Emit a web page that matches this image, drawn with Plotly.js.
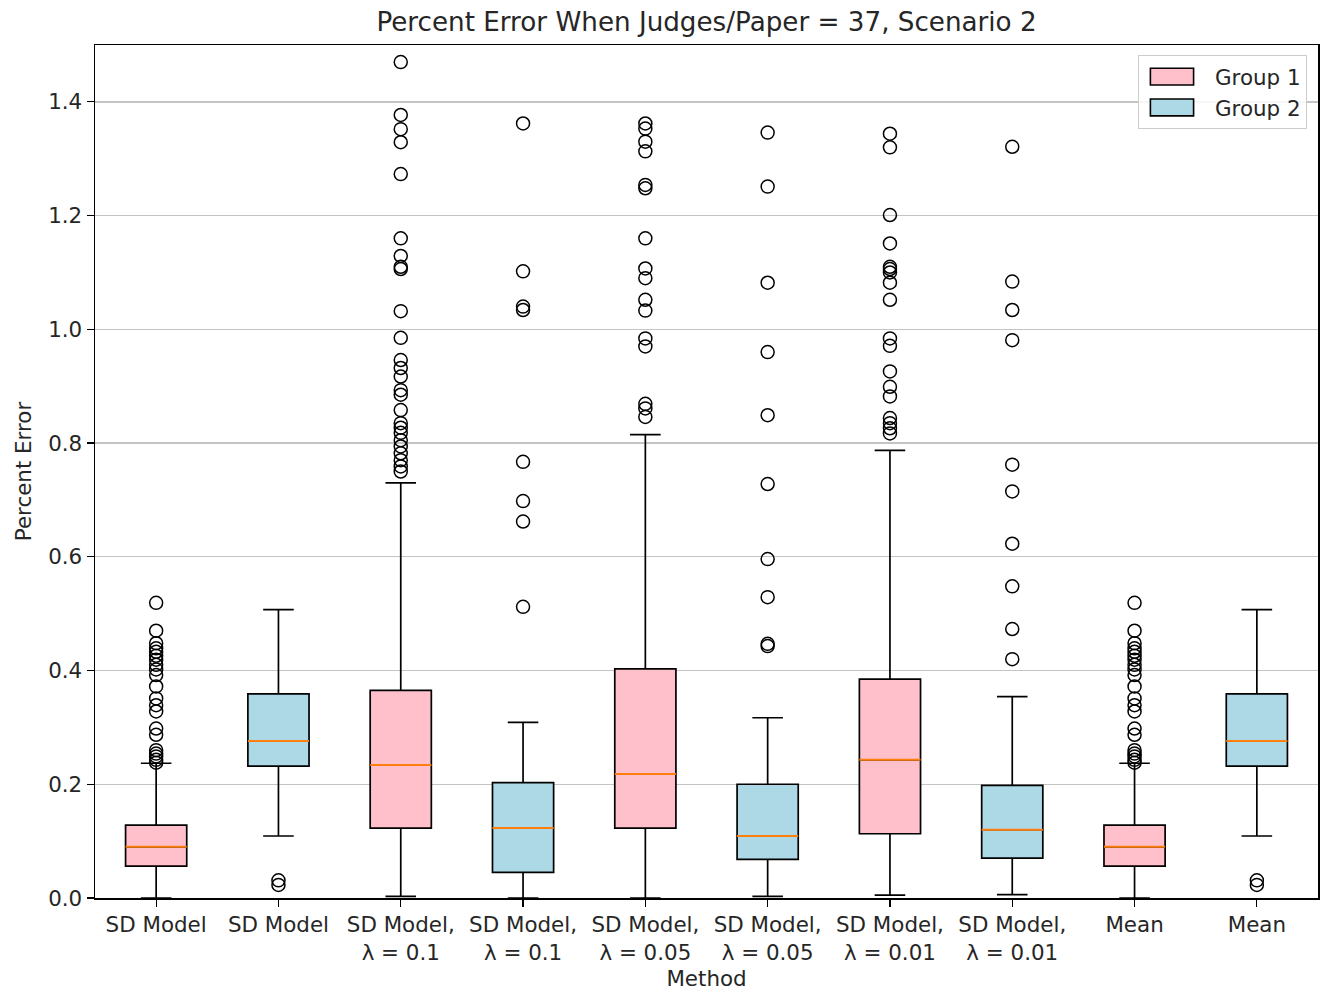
<!DOCTYPE html>
<html>
<head>
<meta charset="utf-8">
<script src="https://cdn.plot.ly/plotly-3.0.1.min.js"></script>
<style>html,body{margin:0;padding:0;background:#fff;}#chart{width:1327px;height:991px;}</style>
</head>
<body>
<div id="chart"></div>
<script>
// ---- data ----
const categories = ["SD Model", "SD Model", "SD Model,<br>λ = 0.1", "SD Model,<br>λ = 0.1",
  "SD Model,<br>λ = 0.05", "SD Model,<br>λ = 0.05", "SD Model,<br>λ = 0.01", "SD Model,<br>λ = 0.01",
  "Mean", "Mean"];
const groups = [1, 2, 1, 2, 1, 2, 1, 2, 1, 2];
const q1Values = [0.056, 0.232, 0.123, 0.045, 0.123, 0.068, 0.113, 0.070, 0.056, 0.232];
const medianValues = [0.090, 0.276, 0.234, 0.123, 0.218, 0.109, 0.243, 0.120, 0.090, 0.276];
const q3Values = [0.128, 0.359, 0.365, 0.203, 0.403, 0.200, 0.385, 0.198, 0.128, 0.359];
const lowerWhisker = [0.000, 0.109, 0.003, 0.000, 0.000, 0.003, 0.005, 0.006, 0.000, 0.109];
const upperWhisker = [0.237, 0.507, 0.730, 0.309, 0.815, 0.317, 0.787, 0.354, 0.237, 0.507];
const outlierSD1 = [0.519, 0.470, 0.448, 0.439, 0.433, 0.426, 0.419, 0.410, 0.402, 0.392, 0.372, 0.351,
  0.339, 0.328, 0.298, 0.287, 0.260, 0.254, 0.249, 0.243, 0.238];
const outlierSD2 = [0.031, 0.023];
const outlierL01g1 = [1.470, 1.377, 1.352, 1.329, 1.273, 1.160, 1.129, 1.110, 1.106, 1.032, 0.985, 0.946,
  0.932, 0.917, 0.893, 0.885, 0.858, 0.835, 0.827, 0.818, 0.805, 0.794, 0.782, 0.770, 0.759, 0.750];
const outlierL01g2 = [1.362, 1.102, 1.040, 1.034, 0.767, 0.698, 0.662, 0.512];
const outlierL005g1 = [1.362, 1.353, 1.330, 1.313, 1.254, 1.248, 1.160, 1.107, 1.090, 1.052, 1.033, 0.984,
  0.970, 0.869, 0.861, 0.846];
const outlierL005g2 = [1.346, 1.251, 1.082, 0.960, 0.849, 0.728, 0.596, 0.529, 0.447, 0.443];
const outlierL001g1 = [1.344, 1.320, 1.201, 1.151, 1.110, 1.106, 1.100, 1.082, 1.052, 0.984, 0.971, 0.926,
  0.899, 0.882, 0.844, 0.835, 0.826, 0.817];
const outlierL001g2 = [1.321, 1.084, 1.034, 0.981, 0.762, 0.715, 0.623, 0.548, 0.473, 0.420];
const outlierMean1 = outlierSD1.slice();
const outlierMean2 = outlierSD2.slice();
const outliers = [outlierSD1, outlierSD2, outlierL01g1, outlierL01g2, outlierL005g1, outlierL005g2,
  outlierL001g1, outlierL001g2, outlierMean1, outlierMean2];
const groupNames = {1: "Group 1", 2: "Group 2"};
const groupColors = {1: "pink", 2: "lightblue"};

// ---- build traces ----
const positions = categories.map((_, i) => i + 1);
const FONT = "DejaVu Sans, sans-serif";
const traces = [];
[1, 2].forEach(g => {
  const idx = positions.map((p, i) => i).filter(i => groups[i] === g);
  traces.push({
    type: "box", name: groupNames[g],
    x: idx.map(i => positions[i]),
    q1: idx.map(i => q1Values[i]), median: idx.map(i => medianValues[i]), q3: idx.map(i => q3Values[i]),
    lowerfence: idx.map(i => lowerWhisker[i]), upperfence: idx.map(i => upperWhisker[i]),
    boxpoints: false, width: 0.5, whiskerwidth: 0.5,
    fillcolor: groupColors[g], line: {color: "#000000", width: 1.7},
    hoverinfo: "skip"
  });
});
// orange median lines
traces.push({
  type: "box", showlegend: false,
  x: positions, q1: medianValues, median: medianValues, q3: medianValues,
  lowerfence: medianValues, upperfence: medianValues,
  boxpoints: false, width: 0.5, whiskerwidth: 0,
  fillcolor: "rgba(0,0,0,0)", line: {color: "#ff7f0e", width: 1.9}, hoverinfo: "skip"
});
// fliers
const ox = [], oy = [];
outliers.forEach((arr, i) => arr.forEach(v => { ox.push(positions[i]); oy.push(v); }));
traces.push({
  type: "scatter", mode: "markers", x: ox, y: oy, showlegend: false, hoverinfo: "skip",
  marker: {symbol: "circle-open", color: "#000000", size: 13, line: {width: 1.5, color: "#000000"}}
});

const layout = {
  width: 1327, height: 991,
  margin: {l: 95, r: 9, t: 45, b: 93},
  paper_bgcolor: "#ffffff", plot_bgcolor: "#ffffff",
  font: {family: FONT, size: 21.4, color: "#262626"},
  title: {text: "Percent Error When Judges/Paper = 37, Scenario 2", font: {family: FONT, size: 26.2, color: "#262626"},
    x: 0.5, xref: "paper", y: 1, yref: "paper", yanchor: "bottom", pad: {b: 14}},
  showlegend: true, boxmode: "overlay",
  legend: {x: 0.991, y: 0.988, xanchor: "right", yanchor: "top", bgcolor: "rgba(255,255,255,0.85)",
    bordercolor: "#cccccc", borderwidth: 1, font: {family: FONT, size: 21.4, color: "#262626"}, itemwidth: 66},
  xaxis: {
    range: [0.5, 10.5], tickmode: "array", tickvals: positions, ticktext: categories,
    showgrid: false, zeroline: false, showline: true, mirror: true, linecolor: "#000000", linewidth: 1.5,
    ticks: "outside", ticklen: 7, tickwidth: 1.2, tickcolor: "#000000",
    tickfont: {family: FONT, size: 21.4, color: "#262626"},
    title: {text: "Method", font: {family: FONT, size: 21.4, color: "#262626"}, standoff: 8}
  },
  yaxis: {
    range: [0, 1.5], tick0: 0, dtick: 0.2, tickformat: ".1f",
    showgrid: true, gridcolor: "#c4c4c4", gridwidth: 1.3, zeroline: false,
    showline: true, mirror: true, linecolor: "#000000", linewidth: 1.5,
    ticks: "outside", ticklen: 7, tickwidth: 1.2, tickcolor: "#000000",
    tickfont: {family: FONT, size: 21.4, color: "#262626"},
    title: {text: "Percent Error", font: {family: FONT, size: 21.4, color: "#262626"}, standoff: 10}
  }
};
Plotly.newPlot("chart", traces, layout, {staticPlot: true, displayModeBar: false}).then(gd => {
  // widen legend patches to look like matplotlib's rectangular handles
  gd.querySelectorAll(".legend .legendpoints path").forEach(p => {
    const prev = p.getAttribute("transform") || "";
    p.setAttribute("transform", prev + " translate(-5,0) scale(3.6,1.4)");
    p.style.vectorEffect = "non-scaling-stroke";
    p.style.strokeWidth = "1.6px";
  });
});
</script>
</body>
</html>
